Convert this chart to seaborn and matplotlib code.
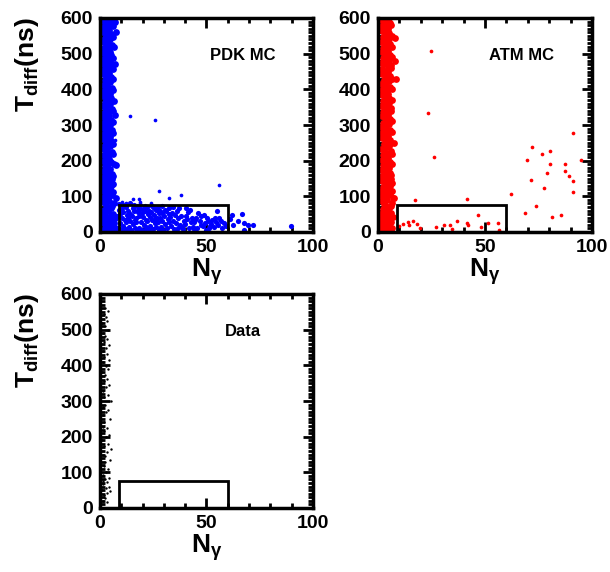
import matplotlib
matplotlib.use("Agg")
import matplotlib.pyplot as plt
from matplotlib.patches import Rectangle
from matplotlib.ticker import MultipleLocator
import seaborn as sns
import pandas as pd

sns.set_theme(style="white")
plt.rcParams['font.family'] = ['Liberation Sans', 'DejaVu Sans']
plt.rcParams['font.weight'] = 'bold'
plt.rcParams['text.color'] = 'black'
plt.rcParams['axes.labelcolor'] = 'black'
plt.rcParams['xtick.color'] = 'black'
plt.rcParams['ytick.color'] = 'black'
plt.rcParams['mathtext.fontset'] = 'custom'
plt.rcParams['mathtext.rm'] = 'Liberation Sans:bold'
plt.rcParams['mathtext.it'] = 'Liberation Sans:bold'
plt.rcParams['mathtext.bf'] = 'Liberation Sans:bold'

# ---------------- data ----------------
pdk_band = [
    (1.2,4),(2.5,12),(3.8,8),(5.1,20),(6.3,15),(1.8,25),(4.4,28),(7.2,10),(2.9,18),(5.7,6),(3.3,3),(6.8,24),
    (1.5,35),(3.0,42),(4.6,38),(6.0,50),(2.2,55),(5.3,47),(3.7,58),(1.1,48),(7.0,40),(4.9,33),
    (2.0,63),(3.5,70),(5.0,66),(6.4,80),(1.4,85),(4.1,88),(2.8,77),(5.8,72),(3.2,92),(7.5,95),
    (1.7,98),(4.3,102),(2.6,110),(5.5,105),(3.9,118),(1.2,115),(6.1,112),(3.0,96),(4.8,120),
    (2.1,125),(3.6,132),(5.2,128),(1.5,140),(4.5,145),(2.9,138),(6.2,135),(3.4,150),(5.7,148),
    (1.8,155),(4.0,160),(2.5,168),(5.4,163),(3.3,175),(1.3,172),(4.7,178),(6.0,158),
    (2.2,185),(3.8,190),(5.1,195),(1.6,200),(4.4,205),(2.9,198),(6.5,190),(3.5,210),(7.5,188),
    (1.9,215),(4.2,220),(2.7,228),(5.6,225),(3.4,235),(1.2,232),(4.9,240),(6.1,218),
    (2.3,245),(3.7,250),(5.3,255),(1.5,262),(4.6,266),(2.8,258),(6.0,248),(3.2,270),
    (1.8,275),(4.1,280),(2.6,288),(5.5,285),(3.5,295),(1.3,292),(4.8,300),(6.3,278),
    (2.1,305),(3.9,310),(5.2,315),(1.6,322),(4.4,326),(2.9,318),(6.2,308),(3.3,330),(7.0,328),
    (1.9,335),(4.3,340),(2.5,348),(5.7,345),(3.6,355),(1.2,352),(4.9,360),(6.0,338),
    (2.2,365),(3.8,370),(5.0,375),(1.5,382),(4.5,386),(2.8,378),(6.4,368),(3.1,390),
    (1.7,395),(4.0,400),(2.6,408),(5.4,405),(3.4,415),(1.3,412),(4.7,420),(6.1,398),
    (2.3,425),(3.7,430),(5.2,435),(1.6,442),(4.4,446),(2.9,438),(6.3,428),(3.2,450),
    (1.8,455),(4.2,460),(2.5,468),(5.6,465),(3.5,475),(1.2,472),(4.8,480),(6.0,458),(7.0,470),
    (2.1,485),(3.9,490),(5.1,495),(1.5,502),(4.5,506),(2.8,498),(6.2,488),(3.3,510),
    (1.9,515),(4.1,520),(2.6,528),(5.5,525),(3.6,535),(1.3,532),(4.9,540),(6.4,518),
    (2.2,545),(3.8,550),(5.0,555),(1.6,562),(4.3,566),(2.9,558),(6.1,548),(3.4,570),(7.5,560),
    (1.8,575),(4.0,580),(2.5,588),(5.3,585),(3.6,595),(1.2,592),(4.7,598),(6.0,578),(7.0,590),
]
pdk_box = [
    (8.5,10),(9.2,25),(10.1,40),(11.0,55),(12.3,70),(8.8,62),(9.7,5),(10.6,18),(11.8,33),(12.7,48),
    (9.0,78),(10.4,66),(11.5,12),(12.1,28),(8.2,45),(13.0,58),(12.9,8),(10.9,75),(9.5,50),(11.3,3),
    (13.4,15),(14.2,30),(15.1,45),(16.0,60),(17.3,72),(13.8,52),(14.7,7),(15.6,22),(16.8,38),(17.7,55),
    (14.0,80),(15.4,68),(16.5,11),(17.1,27),(13.2,40),(18.0,63),(17.9,4),(15.9,77),(14.5,48),(16.3,34),
    (18.5,12),(19.2,28),(20.1,42),(21.0,58),(22.3,70),(18.8,64),(19.7,6),(20.6,20),(21.8,35),(22.7,50),
    (19.0,76),(20.4,65),(21.5,14),(22.1,30),(18.2,46),(23.0,60),(22.9,9),(20.9,74),(19.5,53),(21.3,3),
    (23.5,18),(24.3,33),(25.2,48),(26.1,62),(27.3,70),(23.9,55),(24.8,8),(25.7,24),(26.8,40),(27.6,52),
    (24.2,72),(25.5,66),(26.4,13),(27.2,29),(23.3,43),(28.0,58),(27.9,5),(25.9,37),
    (28.5,14),(29.3,30),(30.2,45),(31.1,60),(32.2,68),(28.9,52),(29.8,7),(30.7,22),(31.8,37),(32.6,50),
    (29.2,72),(30.5,63),(31.4,12),(32.3,27),(33.0,42),(28.3,40),
    (33.5,16),(34.3,32),(35.2,47),(36.1,58),(37.2,66),(33.9,52),(34.8,9),(35.7,24),(36.8,38),(37.6,20),
    (34.4,70),(35.5,6),(36.4,12),(37.9,45),
    (38.5,15),(39.3,30),(40.2,44),(41.1,55),(42.2,62),(38.9,8),(39.8,22),(40.7,36),(41.8,12),(42.6,27),
    (40.5,68),(43.0,40),
    (43.5,14),(44.3,28),(45.2,40),(46.1,52),(47.2,20),(43.9,8),(44.8,34),(45.7,12),(46.8,30),(47.6,45),
    (48.5,16),(49.3,26),(50.2,38),(51.1,10),(52.2,22),(48.9,48),(49.8,6),(50.7,30),(51.8,18),(52.6,35),
    (53.5,14),(54.3,28),(55.2,20),(56.1,38),(57.2,12),(58.0,25),(53.9,40),(56.8,30),(59.0,18),(55.0,60),
    (61.9,49),(66.6,50),(64.6,30),(67.7,26),(69.6,20),(72.0,19),(62.4,19),(67.4,7),(89.5,17),(60.8,36),
]
pdk_out = [
    (14.3,326),(25.9,313),(55.8,133),(27.6,114),(32.6,96),(37.8,103),(15.5,92),(18.2,92),
    (19.0,84),(24.0,80),(7.0,189),(7.5,560),(6.7,333),(7.0,258),(5.0,597),(10.5,83),(12.0,82),
]

atm_band = [
    (1.5,8),(2.8,14),(4.0,6),(5.3,20),(6.6,12),(2.1,26),(4.7,30),(3.4,18),(6.0,28),(1.2,16),
    (1.8,36),(3.2,44),(4.9,40),(6.2,52),(2.5,56),(5.6,48),(3.9,60),(1.4,50),(6.8,42),(4.4,34),
    (2.3,64),(3.7,72),(5.2,68),(6.5,82),(1.7,86),(4.4,90),(3.0,78),(6.0,74),(3.5,94),(7.2,96),
    (2.0,100),(4.6,104),(2.9,112),(5.8,107),(4.1,120),(1.5,116),(6.4,114),(3.3,98),(5.0,122),
    (2.4,127),(3.9,134),(5.5,130),(1.8,142),(4.8,147),(3.2,140),(6.5,137),(3.7,152),(6.0,150),
    (2.1,157),(4.3,162),(2.8,170),(5.7,165),(3.6,177),(1.6,174),(5.0,180),(6.3,160),
    (2.5,187),(4.1,192),(5.4,197),(1.9,202),(4.7,207),(3.2,200),(6.7,192),(3.8,212),
    (2.2,217),(4.5,222),(3.0,230),(5.9,227),(3.7,237),(1.5,234),(5.2,242),(6.4,220),
    (2.6,247),(4.0,252),(5.6,257),(1.8,264),(4.9,268),(3.1,260),(6.3,250),(3.5,272),
    (2.1,277),(4.4,282),(2.9,290),(5.8,287),(3.8,297),(1.6,294),(5.1,302),(6.6,280),
    (2.4,307),(4.2,312),(5.5,317),(1.9,324),(4.7,328),(3.2,320),(6.5,310),(3.6,332),
    (2.2,337),(4.6,342),(2.8,350),(6.0,347),(3.9,357),(1.5,354),(5.2,362),(6.3,340),
    (2.5,367),(4.1,372),(5.3,377),(1.8,384),(4.8,388),(3.1,380),(6.7,370),(3.4,392),
    (2.0,397),(4.3,402),(2.9,410),(5.7,407),(3.7,417),(1.6,414),(5.0,422),(6.4,400),
    (2.6,427),(4.0,432),(5.5,437),(1.9,444),(4.7,448),(3.2,440),(6.6,430),(3.5,452),
    (2.1,457),(4.5,462),(2.8,470),(5.9,467),(3.8,477),(1.5,474),(5.1,482),(6.3,460),
    (2.4,487),(4.2,492),(5.4,497),(1.8,504),(4.8,508),(3.1,500),(6.5,490),(3.6,512),
    (2.2,517),(4.4,522),(2.9,530),(5.8,527),(3.9,537),(1.6,534),(5.2,542),(6.7,520),
    (2.5,547),(4.1,552),(5.3,557),(1.9,564),(4.6,568),(3.2,560),(6.4,550),(3.7,572),
    (2.1,577),(4.3,582),(2.8,590),(5.6,587),(3.9,597),(1.5,594),(5.0,599),(6.3,580),
    (8.0,480),(8.5,430),(7.8,545),(7.5,250),(7.6,95),
]
atm_out = [
    (24.8,507),(23.5,333),(26.0,210),(17.4,90),(41.4,92),(62.0,107),(69.7,203),(71.3,146),
    (72.0,239),(68.8,54),(73.7,73),(76.8,220),(77.4,124),(80.4,228),(80.2,192),(78.8,166),
    (81.2,42),(85.3,49),(87.6,190),(87.6,170),(89.2,158),(91.0,278),(91.0,142),(91.0,113),
    (94.8,203),(9.9,16),(11.6,22),(14.0,28),(14.7,20),(16.5,31),(18.0,22),(19.4,12),(27.3,15),
    (30.9,21),(33.7,19),(34.8,8),(36.7,31),(41.5,25),(42.0,19),(46.9,48),(48.3,13),(51.6,24),
    (56.3,25),(56.4,7),
]
data_pts = [
    (1.2,20),(2.5,28),(1.8,36),(3.4,42),(1.0,50),(2.9,55),(4.2,60),(1.6,66),(3.1,72),(2.2,80),
    (4.0,85),(1.3,92),(2.7,100),(3.6,108),(1.9,118),(2.4,128),(4.5,135),(1.4,150),(3.2,158),(5.0,165),
    (2.0,175),(3.8,180),(1.1,190),(2.6,198),(4.1,205),(1.7,215),(3.3,225),(2.1,240),(4.6,250),(1.5,260),
    (3.0,268),(3.9,275),(1.2,282),(2.5,290),(5.3,300),(2.0,310),(3.6,318),(1.4,328),(2.8,338),(4.3,345),
    (1.8,355),(3.2,362),(2.3,372),(1.0,380),(3.7,390),(2.6,398),(1.5,408),(4.0,415),(2.1,422),(3.4,432),
    (1.3,440),(2.9,450),(4.4,458),(1.9,466),(3.1,475),(2.4,482),(1.6,492),(3.8,500),(2.2,510),(1.1,518),
    (3.5,525),(2.7,535),(1.8,545),(3.9,552),(2.4,560),(1.4,228),(2.2,145),(4.8,48),(3.3,18),(1.5,75),
]
box_x0, box_x1, box_y0, box_y1 = 9, 60, 0, 75
panel_labels = ["PDK MC", "ATM MC", "Data"]

# ---------------- figure ----------------
fig = plt.figure(figsize=(6.10, 5.72), dpi=100)
W, H = 610, 572
def add_ax(l, t, r, b):
    return fig.add_axes([l / W, 1 - b / H, (r - l) / W, (b - t) / H])

ax1 = add_ax(100, 18, 313, 232)
ax2 = add_ax(378, 18, 592, 232)
ax3 = add_ax(100, 294, 313, 508)

def df(pts):
    return pd.DataFrame(pts, columns=["N", "T"])

sns.scatterplot(data=df(pdk_band), x="N", y="T", ax=ax1, color="#0000ff", s=24, linewidth=0)
sns.scatterplot(data=df(pdk_box), x="N", y="T", ax=ax1, color="#0000ff", s=14, linewidth=0)
sns.scatterplot(data=df(pdk_out), x="N", y="T", ax=ax1, color="#0000ff", s=7, linewidth=0)
sns.scatterplot(data=df(atm_band), x="N", y="T", ax=ax2, color="#ff0000", s=24, linewidth=0)
sns.scatterplot(data=df(atm_out), x="N", y="T", ax=ax2, color="#ff0000", s=7, linewidth=0)
sns.scatterplot(data=df(data_pts), x="N", y="T", ax=ax3, color="black", s=3, linewidth=0)

for ax, lab in zip([ax1, ax2, ax3], panel_labels):
    ax.set_xlim(0, 100)
    ax.set_ylim(0, 600)
    ax.add_patch(Rectangle((box_x0, box_y0), box_x1 - box_x0, box_y1 - box_y0,
                           fill=False, edgecolor="black", linewidth=2, zorder=5))
    ax.text(67, 496, lab, ha="center", va="center", fontsize=12, fontweight="bold")
    ax.xaxis.set_major_locator(MultipleLocator(50))
    ax.xaxis.set_minor_locator(MultipleLocator(10))
    ax.yaxis.set_major_locator(MultipleLocator(100))
    ax.yaxis.set_minor_locator(MultipleLocator(10))
    ax.tick_params(which="both", direction="in", top=True, right=True, bottom=True, left=True,
                   width=2, color="black")
    ax.tick_params(which="major", length=7, labelsize=14, pad=5)
    ax.tick_params(which="minor", length=3.5)
    for lbl in ax.get_xticklabels() + ax.get_yticklabels():
        lbl.set_fontweight("bold")
    for sp in ax.spines.values():
        sp.set_linewidth(2.5)
        sp.set_color("black")
    ax.set_xlabel(r"N$_{\gamma}$", fontsize=19, fontweight="bold", labelpad=0)
    ax.set_ylabel("")

for ax in [ax1, ax3]:
    ax.set_ylabel(r"T$_{\mathrm{diff}}$(ns)", fontsize=19, fontweight="bold")
    ax.yaxis.set_label_coords(-0.275, 0.78)
ax2.set_ylabel("")

fig.savefig("out.png", dpi=100, facecolor="white")
